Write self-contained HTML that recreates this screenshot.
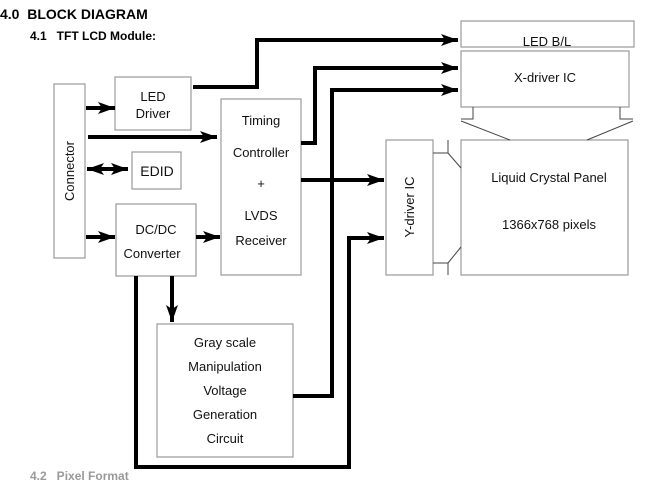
<!DOCTYPE html>
<html><head><style>
body{margin:0;background:#fff;width:652px;height:475px;overflow:hidden;position:relative;font-family:"Liberation Sans",sans-serif}
.t{position:absolute;white-space:nowrap}
</style></head><body>
<div class="t" style="left:0;top:6px;font-weight:bold;font-size:14px">4.0&nbsp; BLOCK DIAGRAM</div>
<div class="t" style="left:30px;top:29px;font-weight:bold;font-size:12px">4.1&nbsp;&nbsp; TFT LCD Module:</div>
<div class="t" style="left:30px;top:469px;font-weight:bold;font-size:12px;color:#999">4.2&nbsp;&nbsp; Pixel Format</div>
<svg width="652" height="475" style="position:absolute;left:0;top:0" font-family="Liberation Sans, sans-serif" font-size="13">
<defs><marker id="a" markerWidth="18" markerHeight="14" refX="17" refY="7" orient="auto" markerUnits="userSpaceOnUse"><path d="M0,1 L17,7 L0,13 L4,7z" fill="#000"/></marker>
<marker id="b" markerWidth="18" markerHeight="14" refX="0" refY="7" orient="auto" markerUnits="userSpaceOnUse"><path d="M17,1 L0,7 L17,13 L13,7z" fill="#000"/></marker></defs>
<g fill="#fff" stroke="#999" stroke-width="1.2">
<rect x="54" y="84" width="31" height="174"/>
<rect x="115" y="77" width="76" height="53"/>
<rect x="132" y="152" width="49" height="37"/>
<rect x="116" y="204" width="80" height="72"/>
<rect x="221" y="99" width="80" height="176"/>
<rect x="157" y="324" width="136" height="133"/>
<rect x="461" y="21" width="173" height="26"/>
<rect x="461" y="51" width="168" height="56"/>
<rect x="386" y="140" width="47" height="135"/>
<rect x="461" y="140" width="167" height="135"/>
</g>
<g fill="none" stroke="#444" stroke-width="1">
<path d="M473,107 V119 H461 M620,107 V119 H633"/>
<path d="M461,121 L510,140 M633,121 L587,140"/>
<path d="M433,153 H448 L461,168 M448,140 V153"/>
<path d="M433,263 H448 L461,247 M448,275 V263"/>
</g>
<g fill="none" stroke="#000" stroke-width="4">
<path d="M193,87 H257 V40 H458" marker-end="url(#a)"/>
<path d="M301,143 H315 V68 H458" marker-end="url(#a)"/>
<path d="M293,396 H332 V90 H458" marker-end="url(#a)"/>
<path d="M301,180 H384" marker-end="url(#a)"/>
<path d="M136,276 V467 H349 V238 H384" marker-end="url(#a)"/>
<path d="M86,108 H115" marker-end="url(#a)"/>
<path d="M88,137 H217" marker-end="url(#a)"/>
<path d="M87,169 H128" marker-end="url(#a)" marker-start="url(#b)"/>
<path d="M86,237 H115" marker-end="url(#a)"/>
<path d="M196,237 H220" marker-end="url(#a)"/>
<path d="M172,276 V322" marker-end="url(#a)"/>
</g>
<g fill="#111" text-anchor="middle">
<text transform="translate(74,171) rotate(-90)">Connector</text>
<text x="153" y="101">LED</text><text x="153" y="118">Driver</text>
<text x="157" y="176" font-size="14">EDID</text>
<text x="156" y="234">DC/DC</text><text x="152" y="258">Converter</text>
<text x="261" y="125">Timing</text><text x="261" y="157">Controller</text><text x="261" y="188">+</text><text x="261" y="220">LVDS</text><text x="261" y="245">Receiver</text>
<text x="225" y="347">Gray scale</text><text x="225" y="371">Manipulation</text><text x="225" y="395">Voltage</text><text x="225" y="419">Generation</text><text x="225" y="443">Circuit</text>
<text x="547" y="46">LED B/L</text>
<text x="545" y="82">X-driver IC</text>
<text transform="translate(414,207) rotate(-90)">Y-driver IC</text>
<text x="549" y="182">Liquid Crystal Panel</text>
<text x="549" y="229">1366x768 pixels</text>
</g>
</svg>
</body></html>
